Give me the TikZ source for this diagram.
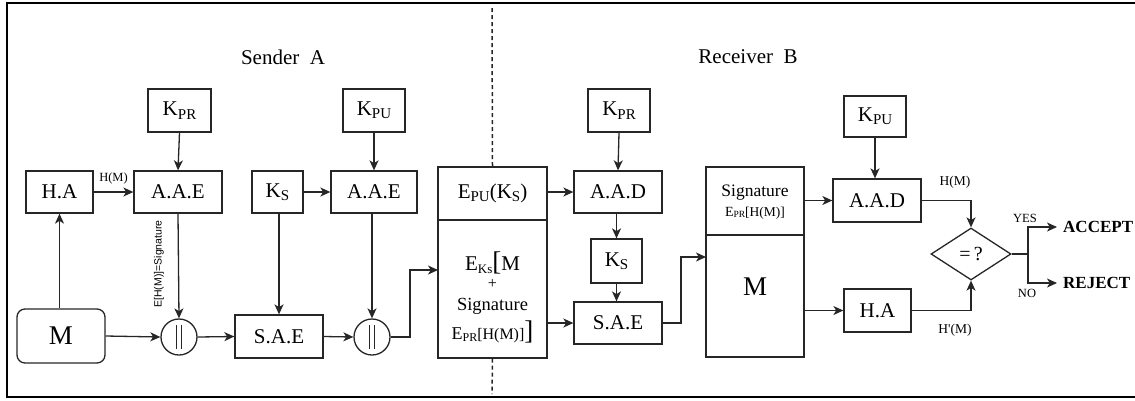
\documentclass[tikz,border=0pt]{standalone}
\usepackage{fontspec}
\setmainfont{Liberation Serif}
\setsansfont{Liberation Sans}
\usetikzlibrary{arrows.meta,shapes.geometric}
\newcommand\fsz[1]{\fontsize{#1}{#1}\selectfont}
\newcommand\lowsub[2][15]{\raisebox{-0.35ex}{\fsz{#1}#2}}

\begin{document}
\begin{tikzpicture}[x=1pt,y=-1pt,
  box/.style={draw=black!85, line width=1.3pt, rectangle, inner sep=0pt, font=\fsz{21}},
  wh/.style 2 args={minimum width=#1, minimum height=#2},
  circ/.style={draw=black!85, line width=1.3pt, circle, minimum size=36pt, inner sep=0pt},
  arr/.style={draw=black!85, line width=1.3pt, -{Stealth[length=10pt,width=9pt,inset=2.8pt]}},
  plain/.style={draw=black!85, line width=1.3pt},
  lbl/.style={inner sep=0pt, font=\fsz{12.5}},
  title/.style={inner sep=0pt, font=\fsz{21}},
  divider/.style={draw=black!85, line width=1.5pt, dash pattern=on 4pt off 3pt}]

\useasboundingbox (0,0) rectangle (1135,400);
\clip (0,0) rectangle (1135,400);

% outer frame (right side runs off the page)
\coordinate (fTR) at (1140,3);
\coordinate (fTL) at (7,3);
\coordinate (fBL) at (7,397);
\coordinate (fBR) at (1140,397);
\draw[line width=2.6pt, draw=black] (fTR) -- (fTL) -- (fBL) -- (fBR);

% titles
\node[title] (senderA) at (283,57) {Sender\ \ A};
\node[title] (receiverB) at (748,57) {Receiver\ \ B};

% ---------------- sender side ----------------
\node[box, wh={67}{42}] (ha1) at (59.5,192) {H.A};
\node[box, wh={63}{43}] (kpr1) at (179.5,110.5) {K\lowsub{PR}};
\node[box, wh={88}{42}] (aae1) at (178,192) {A.A.E};
\node[box, wh={51}{42}] (ks1) at (277.5,192) {K\lowsub{S}};
\node[box, wh={62}{43}] (kpu1) at (374,110.5) {K\lowsub{PU}};
\node[box, wh={86}{42}] (aae2) at (374,192) {A.A.E};
\node[box, rounded corners=8pt, wh={88}{54}, font=\fsz{27}] (m1) at (61,336) {M};
\node[circ] (c1) at (179,337) {};
\node[box, wh={88}{43}] (sae1) at (279,336.5) {S.A.E};
\node[circ] (c2) at (372,337) {};

% concatenation bars
\foreach \c in {c1,c2}{
  \draw[plain] ([xshift=-2.6pt,yshift=12pt]\c.center) -- ([xshift=-2.6pt,yshift=-12pt]\c.center);
  \draw[plain] ([xshift=2.6pt,yshift=12pt]\c.center) -- ([xshift=2.6pt,yshift=-12pt]\c.center);
}

\draw[arr] (ha1.south |- m1.north) -- (ha1.south);
\draw[arr] (ha1.east) -- node[lbl, above=7pt] (hm1) {H(M)} (aae1.west);
\draw[arr] (kpr1.south) -- (aae1.north);
\draw[arr] (aae1.south) -- (c1.north);
\node[rotate=90, inner sep=0pt, font=\sffamily\fsz{10.5}] (sigLbl) at (159,264) {E[H(M)]=Signature};
\draw[arr] (m1.east) -- (c1.west);
\draw[arr] (c1.east) -- (sae1.west);
\draw[arr] (ks1.south -| sae1.north) -- (sae1.north);
\draw[arr] (ks1.east) -- (aae2.west);
\draw[arr] (kpu1.south) -- (aae2.north);
\draw[arr] (aae2.south -| c2.north) -- (c2.north);
\draw[arr] (sae1.east) -- (c2.west);

% ---------------- transmitted message ----------------
\node[box, wh={109}{53}] (epu) at (492.5,193.5) {E\lowsub{PU}(K\lowsub{S})};
\node[box, wh={109}{138}] (eks) at (492.5,289) {};
\node[inner sep=0pt, font=\fsz{21}] (eksA) at (492.5,263) {E\lowsub[13]{Ks}{\fsz{27}[}M};
\node[inner sep=0pt, font=\fsz{16}] (eksB) at (492.5,284) {+};
\node[inner sep=0pt, font=\fsz{18.5}] (eksC) at (492.5,306) {Signature};
\node[inner sep=0pt] (eksD) at (492.5,332) {{\fsz{18}E}\lowsub[12]{PR}{\fsz{16}[H(M)]}{\fsz{27}]}};

\coordinate (bendA) at (410,270);
\coordinate (inA) at (438,270);
\draw[arr] (c2.east) -| (bendA) -- (inA);

% channel separator
\coordinate (dTop) at (492,8);
\coordinate (dBot) at (492,394);
\draw[divider] (dTop) -- (epu.north);
\draw[divider] (eks.south) -- (dBot);

% ---------------- receiver side ----------------
\node[box, wh={62}{43}] (kpr2) at (619,110.5) {K\lowsub{PR}};
\node[box, wh={88}{42}] (aad1) at (618,192) {A.A.D};
\node[box, wh={51}{44}] (ks2) at (616.5,261) {K\lowsub{S}};
\node[box, wh={88}{42}] (sae2) at (618,323) {S.A.E};

\draw[arr] (epu.east |- aad1) -- (aad1.west);
\draw[arr] (eks.east |- sae2) -- (sae2.west);
\draw[arr] (kpr2.south) -- (aad1.north);
\draw[arr] (aad1.south -| ks2.north) -- (ks2.north);
\draw[arr] (ks2.south) -- (ks2.south |- sae2.north);

\node[box, wh={98}{68}] (sig) at (755,201) {};
\node[box, wh={98}{122}] (msec) at (755,296) {};
\node[inner sep=0pt, font=\fsz{17.5}] (sigA) at (755,193) {Signature};
\node[inner sep=0pt] (sigB) at (755,213) {{\fsz{14}E}\lowsub[9.5]{PR}{\fsz{13.5}[H(M)]}};
\node[inner sep=0pt, font=\fsz{27}] (mB) at (755,287) {M};

\coordinate (bendB) at (681,257);
\coordinate (inB) at (706,257);
\draw[arr] (sae2.east) -| (bendB) -- (inB);

\node[box, wh={62}{41}] (kpu3) at (875,116.5) {K\lowsub{PU}};
\node[box, wh={88}{43}] (aad2) at (877,200.5) {A.A.D};
\node[box, wh={67}{43}] (ha2) at (877.5,310.5) {H.A};
\node[draw=black!85, line width=1.3pt, diamond, aspect=1.54, minimum width=80pt, minimum height=52pt,
      inner sep=0pt, font=\fsz{20}] (eq) at (971,254) {=\,?};

\draw[arr] (kpu3.south) -- (kpu3.south |- aad2.north);
\draw[arr] (sig.east |- aad2) -- (aad2.west);
\draw[arr] (msec.east |- ha2) -- (ha2.west);
\draw[arr] (aad2.east) -| (eq.north);
\draw[arr] (ha2.east) -| (eq.south);
\node[lbl, font=\fsz{13.5}] (hm2) at (955,182) {H(M)};
\node[lbl, font=\fsz{13.5}] (hm3) at (955,330) {H\textquotesingle(M)};

\node[anchor=west, inner xsep=6pt, inner ysep=1pt, font=\bfseries\fsz{17}] (acc) at (1057,227) {ACCEPT};
\node[anchor=west, inner xsep=6pt, inner ysep=1pt, font=\bfseries\fsz{17}] (rej) at (1057,283) {REJECT};
\coordinate (split) at (1028,254);
\draw[plain] (eq.east) -- (split);
\draw[arr] (split) |- (acc.west);
\draw[arr] (split) |- (rej.west);
\node[lbl] (yes) at (1025,218) {YES};
\node[lbl] (no) at (1027,293) {NO};

\end{tikzpicture}
\end{document}
